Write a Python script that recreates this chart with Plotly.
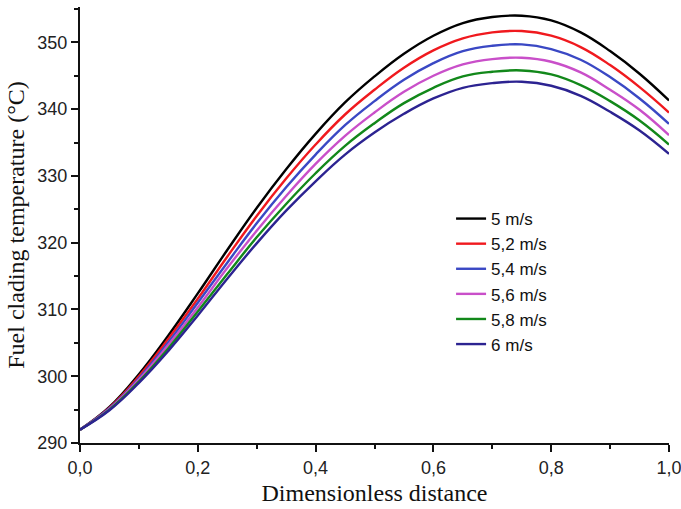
import plotly.graph_objects as go

x = [0.0, 0.05, 0.1, 0.15, 0.2, 0.25, 0.3, 0.35, 0.4, 0.45, 0.5,
     0.55, 0.6, 0.65, 0.7, 0.75, 0.8, 0.85, 0.9, 0.95, 1.0]

v5_0 = [292.0, 295.4, 300.3, 306.1, 312.4, 318.9, 325.2, 331.0, 336.3, 341.0, 344.9,
        348.3, 351.0, 352.9, 353.8, 354.0, 353.3, 351.5, 348.7, 345.3, 341.3]
v5_2 = [292.0, 295.3, 300.0, 305.6, 311.6, 317.9, 324.0, 329.6, 334.7, 339.2, 342.9,
        346.2, 348.8, 350.6, 351.5, 351.7, 351.0, 349.3, 346.6, 343.3, 339.5]
v5_4 = [292.0, 295.2, 299.7, 305.1, 311.0, 317.0, 322.9, 328.3, 333.2, 337.6, 341.2,
        344.4, 346.9, 348.7, 349.5, 349.7, 349.0, 347.4, 344.8, 341.6, 337.8]
v5_6 = [292.0, 295.1, 299.5, 304.7, 310.3, 316.2, 321.8, 327.0, 331.8, 336.0, 339.5,
        342.6, 345.0, 346.7, 347.5, 347.7, 347.1, 345.5, 342.9, 339.9, 336.1]
v5_8 = [292.0, 295.0, 299.2, 304.2, 309.7, 315.3, 320.8, 325.8, 330.4, 334.5, 337.9,
        340.9, 343.2, 344.9, 345.6, 345.8, 345.2, 343.6, 341.2, 338.3, 334.7]
v6_0 = [292.0, 294.9, 299.0, 303.8, 309.1, 314.6, 319.9, 324.8, 329.2, 333.2, 336.5,
        339.3, 341.6, 343.2, 343.9, 344.1, 343.5, 342.0, 339.6, 336.8, 333.3]

names = ["5 m/s", "5,2 m/s", "5,4 m/s", "5,6 m/s", "5,8 m/s", "6 m/s"]
series = [v5_0, v5_2, v5_4, v5_6, v5_8, v6_0]
colors = ["#000000", "#f0191e", "#3a48c4", "#c94fc9", "#12881a", "#2c2391"]

fig = go.Figure()
for n, s, c in zip(names, series, colors):
    fig.add_trace(go.Scatter(x=x, y=s, name=n, mode="lines",
                             line=dict(color=c, width=2.4, shape="spline", smoothing=1.2)))

fig.update_layout(
    width=681, height=509,
    margin=dict(l=80, r=12, t=7, b=66, autoexpand=False),
    paper_bgcolor="white", plot_bgcolor="white",
    separators=", ",
    showlegend=True,
    legend=dict(x=0.63, y=0.555, xanchor="left", yanchor="top",
                font=dict(family="Liberation Sans, Arial", size=17, color="#111"),
                bgcolor="rgba(0,0,0,0)", tracegroupgap=0),
    font=dict(family="Liberation Sans, Arial", size=18, color="#222"),
)
fig.update_xaxes(
    range=[0, 1.0], tickvals=[0, 0.2, 0.4, 0.6, 0.8, 1.0], tickformat=".1f",
    automargin=False, ticklabeloverflow="allow",
    showline=True, linecolor="#111", linewidth=2, ticks="outside", ticklen=7,
    tickwidth=2, tickcolor="#111", showgrid=False, zeroline=False,
    minor=dict(dtick=0.1, ticks="outside", ticklen=4, tickwidth=2, tickcolor="#111"),
    tickfont=dict(size=18, color="#222"),
    title=dict(text="Dimensionless distance", standoff=8,
               font=dict(family="Liberation Serif, Times New Roman", size=24, color="#111")),
)
fig.update_yaxes(
    range=[290, 355.3], tickvals=[290, 300, 310, 320, 330, 340, 350],
    automargin=False,
    showline=True, linecolor="#111", linewidth=2, ticks="outside", ticklen=7,
    tickwidth=2, tickcolor="#111", showgrid=False, zeroline=False,
    minor=dict(dtick=5, ticks="outside", ticklen=4, tickwidth=2, tickcolor="#111"),
    tickfont=dict(size=18, color="#222"),
    title=dict(text="Fuel clading temperature (°C)", standoff=6,
               font=dict(family="Liberation Serif, Times New Roman", size=24, color="#111")),
)

fig.write_html("out.html")
